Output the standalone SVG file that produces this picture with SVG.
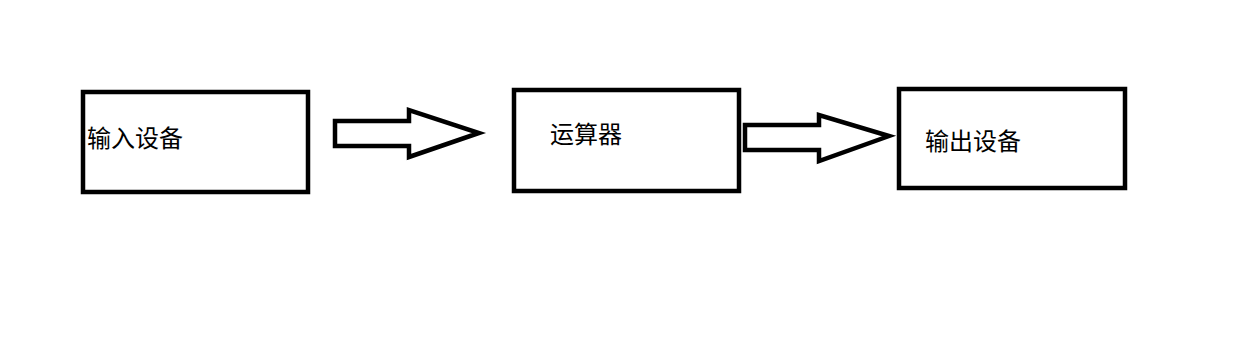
<svg xmlns="http://www.w3.org/2000/svg" width="1242" height="338" viewBox="0 0 1242 338">
<style>
.box{fill:#fff;stroke:#000;stroke-width:4.5}
.arr{fill:#fff;stroke:#000;stroke-width:4.5;stroke-linejoin:miter}
.lbl{font-family:"Noto Sans CJK SC","Microsoft YaHei",sans-serif;font-size:24px;fill:#000}
</style>
<rect width="1242" height="338" fill="#fff"/>
<g id="input">
<rect class="box" x="83" y="92" width="225" height="100"/>
<text class="lbl" x="87" y="147">输入设备</text>
</g>
<g id="alu">
<rect class="box" x="514" y="90" width="225" height="101"/>
<text class="lbl" x="550" y="143">运算器</text>
</g>
<g id="output">
<rect class="box" x="899" y="89" width="226" height="99"/>
<text class="lbl" x="925" y="150">输出设备</text>
</g>
<g id="connectors">
<polygon class="arr" points="335,121 409,121 409,110 479,133 409,157 409,146 335,146"/>
<polygon class="arr" points="745,125 819,125 819,115 889,136 819,161 819,150 745,150"/>
</g>
</svg>
